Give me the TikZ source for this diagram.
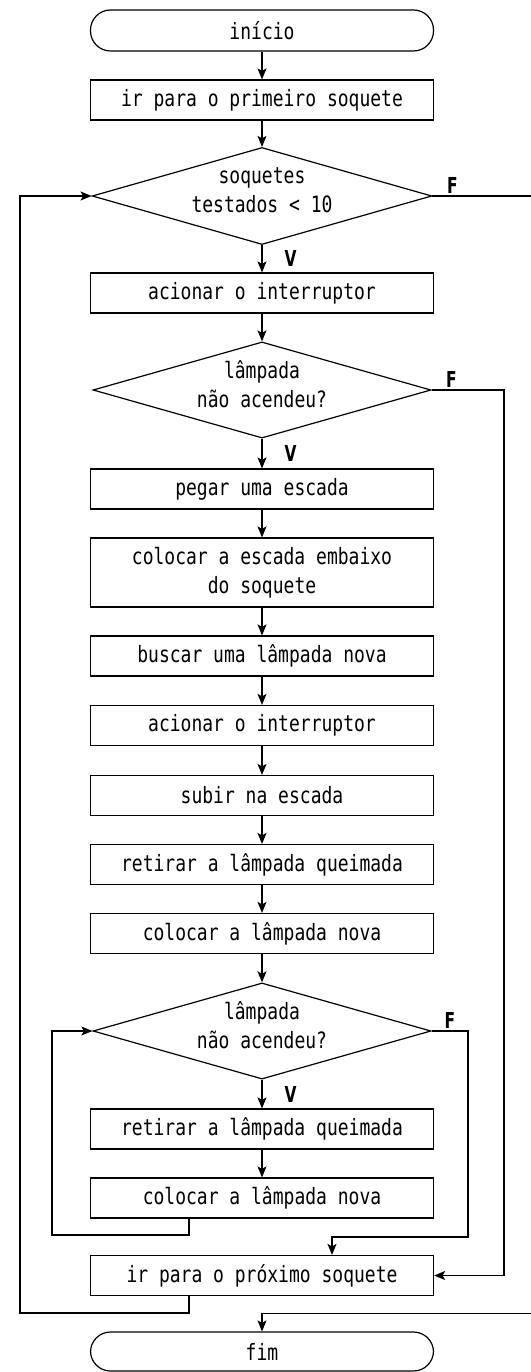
\documentclass[tikz,border=0pt]{standalone}
\usepackage{fontspec}
\usetikzlibrary{shapes.geometric, arrows.meta, positioning}
\newfontfamily\passofont{DejaVu Sans Mono}[FakeStretch=0.8]
\newfontfamily\rotulofont{DejaVu Sans}[FakeStretch=0.7]

\tikzset{
  every path/.style={line width=1.2pt},
  passo/.style={draw, rectangle, minimum width=343pt, minimum height=40pt, inner sep=0pt, align=center, font=\passofont\fontsize{22.5}{29}\selectfont},
  teste/.style={draw, diamond, shape aspect=3.5, minimum width=338pt, minimum height=96pt, inner sep=0pt, text depth=12pt, align=center, font=\passofont\fontsize{22.5}{29}\selectfont},
  terminal/.style={draw, rectangle, rounded corners=20pt, minimum width=343pt, minimum height=41pt, inner sep=0pt, font=\passofont\fontsize{22.5}{29}\selectfont},
  seta/.style={-{Stealth[length=11pt, width=9pt, inset=2.5pt]}},
  rotulo/.style={inner sep=1pt, font=\rotulofont\bfseries\fontsize{22}{22}\selectfont}
}

\begin{document}
\begin{tikzpicture}[x=1pt, y=-1pt]
                \useasboundingbox (0,0) rectangle (530,1372);
                \node[terminal] (inicio) at (262,30.5) {início};
                \node[passo] (primeiro) at (262,100) {ir para o primeiro soquete};
                \node[teste] (testados) at (262,196) {soquetes\\testados < 10};
                \node[passo] (aciona1) at (262,293) {acionar o interruptor};
                \node[teste] (apagou1) at (262,390) {lâmpada\\não acendeu?};
                \node[passo] (pegar) at (262,489) {pegar uma escada};
                \node[passo, minimum height=69pt] (escada) at (262,572.5) {colocar a escada embaixo\\do soquete};
                \node[passo] (buscar) at (262,656) {buscar uma lâmpada nova};
                \node[passo] (aciona2) at (262,725.5) {acionar o interruptor};
                \node[passo] (subir) at (262,795.5) {subir na escada};
                \node[passo] (retira1) at (262,864.5) {retirar a lâmpada queimada};
                \node[passo] (coloca1) at (262,933.5) {colocar a lâmpada nova};
                \node[teste] (apagou2) at (262,1031) {lâmpada\\não acendeu?};
                \node[passo] (retira2) at (262,1129) {retirar a lâmpada queimada};
                \node[passo] (coloca2) at (262,1198) {colocar a lâmpada nova};
                \node[passo] (proximo) at (262,1275.5) {ir para o próximo soquete};
                \node[terminal, minimum height=39pt] (fim) at (262,1351.5) {fim};
                % cantos dos retornos
                \coordinate (voltaint) at (52,1235);
                \coordinate (voltaext) at (20,1313);
                \coordinate (saidaD1) at (532,196);
                \coordinate (saidaD2) at (504,390);
                \coordinate (saidaD3) at (468,1237);
                % fluxo principal
                \draw[seta] (inicio) -- (primeiro);
                \draw[seta] (primeiro) -- (testados);
                \draw[seta] (testados.south) -- node[rotulo, right=21pt] {V} (aciona1);
                \draw[seta] (aciona1) -- (apagou1);
                \draw[seta] (apagou1.south) -- node[rotulo, right=21pt] {V} (pegar);
                \draw[seta] (pegar) -- (escada);
                \draw[seta] (escada) -- (buscar);
                \draw[seta] (buscar) -- (aciona2);
                \draw[seta] (aciona2) -- (subir);
                \draw[seta] (subir) -- (retira1);
                \draw[seta] (retira1) -- (coloca1);
                \draw[seta] (coloca1) -- (apagou2);
                \draw[seta] (apagou2.south) -- node[rotulo, right=21pt] {V} (retira2);
                \draw[seta] (retira2) -- (coloca2);
                % saidas F
                \node[rotulo, above right=1pt and 13pt of testados.east] (fD1) {F};
                \node[rotulo, above right=1pt and 13pt of apagou1.east] (fD2) {F};
                \draw[seta] (testados.east) -- (saidaD1) |- ([yshift=18pt]fim.north) -- (fim.north);
                \draw[seta] (apagou1.east) -- (saidaD2) |- (proximo.east);
                \draw[seta] (apagou2.east) -| node[rotulo, pos=0.25, above=1pt] {F} (saidaD3) -| ([xshift=70pt]proximo.north);
                % lacos
                \draw[seta] ([xshift=-73pt]coloca2.south) |- (voltaint) |- (apagou2.west);
                \draw[seta] ([xshift=-73pt]proximo.south) |- (voltaext) |- (testados.west);
                \end{tikzpicture}
\end{document}
